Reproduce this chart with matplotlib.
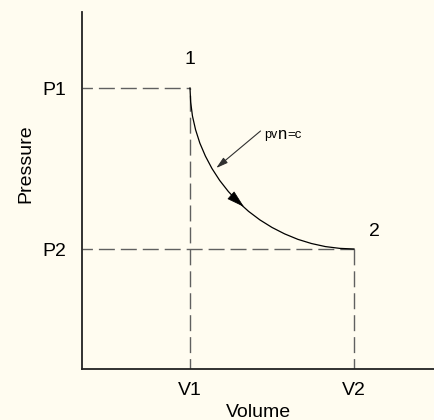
import matplotlib.pyplot as plt

# state points (arbitrary units)
V1, V2 = 1.0, 2.0
P1, P2 = 2.0, 1.0

# polytropic curve pv^n = c
curve_v = [1.000, 1.004, 1.015, 1.034, 1.060, 1.094, 1.134, 1.181, 1.234,
           1.293, 1.357, 1.426, 1.500, 1.577, 1.658, 1.741, 1.826, 1.913,
           2.000]
curve_p = [2.000, 1.913, 1.826, 1.741, 1.658, 1.577, 1.500, 1.426, 1.357,
           1.293, 1.234, 1.181, 1.134, 1.094, 1.060, 1.034, 1.015, 1.004,
           1.000]

# direction arrow on the curve (tail, head)
flow_tail = (1.256, 1.328)
flow_head = (1.329, 1.262)
# leader from the label to the curve
leader_tail = (1.430, 1.733)
leader_head = (1.160, 1.503)

bg = '#fffcf0'
plt.rcParams['font.family'] = ['Liberation Sans', 'DejaVu Sans']
plt.rcParams['lines.scale_dashes'] = False

fig = plt.figure(figsize=(4.35, 4.2), dpi=100, facecolor=bg)
ax = fig.add_axes([0.1885, 0.1226, 0.8115, 0.8488], facecolor=bg)
ax.set_xlim(0.3415, 2.494)
ax.set_ylim(0.2578, 2.472)
x0 = ax.get_xlim()[0]
y0 = ax.get_ylim()[0]

dash = dict(color='#606060', lw=1.0, linestyles=(4, (11.5, 4.3)))
ax.hlines([P1, P2], x0, [V1, V2], **dash)
ax.vlines([V1, V2], y0, [P1, P2], **dash)

ax.plot(curve_v, curve_p, color='black', lw=0.9)

ax.annotate('', xy=flow_head, xytext=flow_tail,
            arrowprops=dict(arrowstyle='-|>,head_length=1.15,head_width=0.33',
                            color='black', lw=0.5, shrinkA=0, shrinkB=0,
                            mutation_scale=10))
ax.annotate('', xy=leader_head, xytext=leader_tail,
            arrowprops=dict(arrowstyle='-|>,head_length=0.7,head_width=0.2',
                            color='#303030', lw=0.8, shrinkA=0, shrinkB=0,
                            mutation_scale=10))

# label "pv n =c" built from three pieces, each placed after the previous one
t_pv = ax.text(1.451, 1.689, 'pv', fontsize=9, va='baseline', ha='left')
t_n = ax.annotate('n', xy=(1, 0), xycoords=t_pv, xytext=(0.3, -0.6),
                  textcoords='offset points', fontsize=12, va='bottom')
ax.annotate('=c', xy=(1, 0), xycoords=t_n, xytext=(0.3, 0.5),
            textcoords='offset points', fontsize=9.5, va='bottom')

ax.text(V1, 2.174, '1', fontsize=14, ha='center', va='center')
ax.text(2.122, 1.106, '2', fontsize=14, ha='center', va='center')

for s in ['top', 'right']:
    ax.spines[s].set_visible(False)
for s in ['left', 'bottom']:
    ax.spines[s].set_color('#222222')
    ax.spines[s].set_linewidth(1.3)

ax.set_xticks([V1, V2], ['V1', 'V2'])
ax.set_yticks([P1, P2], ['P1', 'P2'])
ax.tick_params(axis='both', length=0, labelsize=14)
ax.tick_params(axis='x', pad=10)
ax.tick_params(axis='y', pad=11)

ax.set_xlabel('Volume', fontsize=14, labelpad=3)
ax.set_ylabel('Pressure', fontsize=14, va='center')
ax.yaxis.set_label_coords(-0.16, 0.574)

fig.savefig('out.png', dpi=100, facecolor=bg)
